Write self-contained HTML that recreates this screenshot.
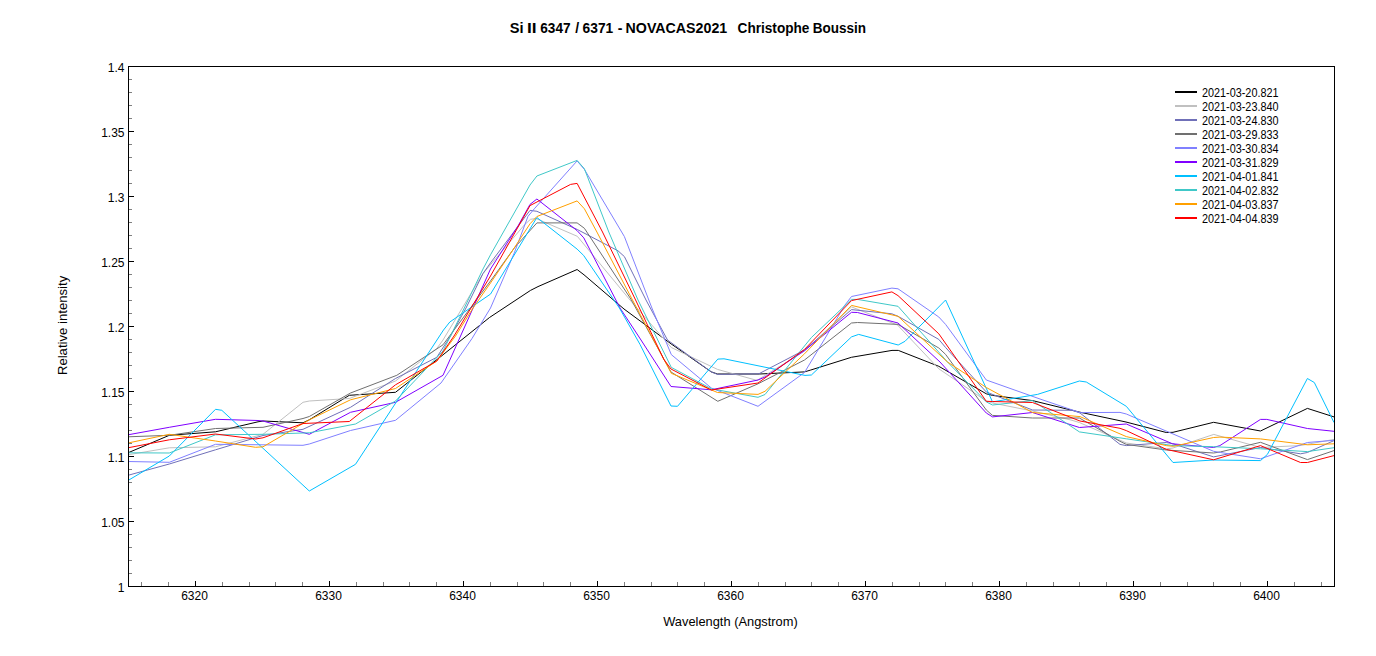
<!DOCTYPE html>
<html lang="en">
<head>
<meta charset="utf-8">
<title>Si II 6347 / 6371 - NOVACAS2021 Christophe Boussin</title>
<style>
html,body{margin:0;padding:0;background:#fff;}
body{width:1376px;height:656px;overflow:hidden;}
svg{display:block;}
text{font-family:"Liberation Sans",sans-serif;fill:#000;}
.tk{font-size:12px;}
.lg{font-size:12px;}
.ax{font-size:13.33px;}
.ti{font-size:14px;font-weight:bold;}
</style>
</head>
<body>
<svg width="1376" height="656" viewBox="0 0 1376 656">
<rect x="0" y="0" width="1376" height="656" fill="#ffffff"/>
<text class="ti" y="32.9"><tspan x="509.70" textLength="13.80" lengthAdjust="spacingAndGlyphs">Si</tspan> <tspan x="526.90" textLength="9.60" lengthAdjust="spacingAndGlyphs">II</tspan> <tspan x="540.30" textLength="30.30" lengthAdjust="spacingAndGlyphs">6347</tspan> <tspan x="575.30" textLength="3.90" lengthAdjust="spacingAndGlyphs">/</tspan> <tspan x="582.60" textLength="30.60" lengthAdjust="spacingAndGlyphs">6371</tspan> <tspan x="617.80" textLength="4.70" lengthAdjust="spacingAndGlyphs">-</tspan> <tspan x="625.60" textLength="101.60" lengthAdjust="spacingAndGlyphs">NOVACAS2021</tspan> <tspan x="737.60" textLength="71.80" lengthAdjust="spacingAndGlyphs">Christophe</tspan> <tspan x="812.70" textLength="53.20" lengthAdjust="spacingAndGlyphs">Boussin</tspan></text>
<g fill="none" stroke-width="1" stroke-linejoin="round" stroke-linecap="butt">
<polyline stroke="#000000" points="128.0,452.8 169.3,435.3 215.5,431.8 258.0,421.8 263.0,421.0 303.0,422.8 309.3,419.8 349.3,395.3 395.5,392.3 443.0,354.8 489.5,317.5 530.5,290.4 538.0,286.6 577.1,269.5 584.0,274.8 624.0,309.0 671.0,343.8 711.3,371.9 717.5,374.0 759.5,374.0 804.5,371.9 810.8,370.0 851.4,357.3 892.0,350.4 898.3,350.4 938.8,366.3 986.3,393.8 992.5,395.4 1032.5,400.6 1079.0,412.0 1126.0,422.0 1166.3,432.5 1173.0,432.3 1213.6,422.3 1260.5,431.0 1307.4,408.4 1334.0,416.9"/>
<polyline stroke="#c0c0c0" points="128.0,454.8 169.3,447.8 215.5,446.8 263.0,434.3 303.0,402.3 309.3,401.0 349.3,398.5 395.5,381.0 436.8,348.5 443.0,340.0 483.0,273.5 524.3,225.0 530.5,219.3 536.0,218.5 577.3,236.3 630.0,300.0 671.3,347.5 717.5,369.4 757.0,380.4 804.5,351.0 851.5,306.9 897.5,325.0 938.8,368.8 986.3,401.0 992.5,403.0 1032.5,411.0 1071.0,420.0 1079.4,422.5 1126.3,443.0 1166.3,448.8 1173.0,448.0 1213.8,434.4 1260.5,447.5 1300.0,445.6 1334.0,439.4"/>
<polyline stroke="#7070b8" points="128.0,475.3 169.3,464.0 215.5,449.8 263.0,435.5 303.0,429.3 350.5,407.3 395.5,378.5 436.8,357.3 450.5,336.0 466.0,308.0 483.0,273.5 490.5,262.9 530.0,210.4 536.9,211.3 577.3,229.5 618.0,250.8 624.4,256.6 646.0,300.0 667.5,340.0 711.3,371.9 717.5,374.4 758.8,373.8 804.5,350.0 851.5,309.6 891.9,313.8 898.0,316.3 938.8,339.4 945.6,347.5 986.3,392.0 1032.5,410.0 1072.5,410.3 1080.0,413.0 1120.0,444.4 1126.3,445.6 1166.3,442.5 1173.0,443.8 1213.6,456.9 1260.5,447.5 1300.5,453.8 1307.4,452.5 1334.0,440.6"/>
<polyline stroke="#707070" points="128.0,436.8 169.3,435.3 215.5,428.5 263.0,427.3 303.0,418.5 309.3,416.5 350.5,393.0 396.8,375.3 443.0,344.8 490.5,281.0 514.3,248.0 536.9,222.9 577.1,222.9 584.4,228.3 630.8,299.0 671.0,372.0 717.8,401.3 758.0,383.8 804.5,360.0 851.5,323.0 857.5,322.5 898.0,324.4 938.8,348.0 945.6,354.4 986.3,410.0 992.5,415.4 1032.5,418.0 1079.4,418.0 1120.0,441.3 1126.3,444.4 1166.3,450.0 1213.6,453.0 1220.5,451.9 1260.5,442.3 1307.4,459.6 1334.0,450.6"/>
<polyline stroke="#8080ff" points="128.0,461.5 169.3,462.3 215.5,444.3 263.0,444.8 303.0,445.3 309.3,444.0 350.5,430.5 395.5,420.3 441.0,383.0 472.0,338.5 490.5,308.0 514.3,252.9 528.0,216.3 534.3,208.8 577.1,160.9 584.4,169.4 618.1,226.0 624.4,236.6 651.9,308.0 671.3,354.6 711.3,388.0 758.0,406.3 804.5,372.5 845.0,305.0 851.5,296.5 891.9,288.1 898.0,288.8 938.8,317.0 945.6,324.4 986.3,380.0 1040.0,399.0 1080.0,412.6 1120.0,412.4 1126.3,414.0 1213.6,451.3 1220.5,452.5 1260.5,458.8 1307.4,442.5 1334.0,440.3"/>
<polyline stroke="#8000ff" points="128.0,434.8 169.3,427.3 215.5,419.3 258.0,420.5 263.0,421.0 309.3,434.3 350.5,412.3 395.5,402.3 443.0,375.3 490.5,269.0 518.0,226.0 530.0,204.4 536.9,199.0 577.1,230.6 583.8,237.9 620.0,308.0 641.0,340.0 671.0,386.5 711.3,389.8 758.0,380.0 765.0,377.0 804.5,350.6 851.5,312.3 857.5,312.5 898.0,323.0 940.0,362.0 986.3,413.0 992.5,416.9 1032.5,412.5 1079.4,427.5 1126.3,424.0 1172.5,443.8 1213.6,447.5 1219.9,445.6 1260.5,419.4 1266.8,419.4 1307.4,428.5 1334.0,431.3"/>
<polyline stroke="#00c0ff" points="128.0,480.5 169.3,456.0 215.5,409.3 221.8,410.3 309.3,491.0 355.5,464.3 443.5,330.0 449.8,322.0 490.5,294.1 536.9,217.5 577.1,249.1 583.6,255.4 619.4,308.0 640.0,344.4 671.0,406.0 677.5,406.3 717.8,359.1 724.0,358.8 805.0,375.4 811.4,375.0 851.5,336.9 858.7,334.4 898.2,345.0 905.0,341.3 945.6,300.0 992.5,401.9 1037.5,394.4 1079.4,381.0 1086.3,382.0 1126.3,406.3 1173.0,462.5 1213.6,460.0 1260.5,460.6 1267.4,454.4 1307.4,378.5 1314.3,382.5 1334.0,422.5"/>
<polyline stroke="#40c8c8" points="128.0,452.8 169.3,453.0 215.5,434.8 263.0,434.3 309.3,432.8 355.5,424.0 395.5,401.0 443.0,351.0 450.5,336.0 464.3,308.0 483.0,269.0 490.5,254.8 506.8,226.0 530.0,185.0 536.9,176.0 577.1,160.4 584.4,168.8 608.8,232.0 638.0,300.0 671.3,367.4 711.3,388.8 758.0,397.3 765.0,394.5 811.4,337.5 851.5,299.4 857.5,299.4 898.0,306.3 947.5,362.0 986.3,401.9 992.5,405.0 1032.5,400.6 1079.4,431.9 1126.3,438.8 1173.0,445.6 1213.6,446.7 1260.5,448.8 1307.4,451.6 1334.0,447.7"/>
<polyline stroke="#ffa000" points="128.0,443.0 169.3,434.3 215.5,441.0 255.5,447.3 263.0,446.8 309.3,419.8 350.5,399.8 395.5,388.5 436.8,361.0 455.5,336.0 473.0,308.0 490.5,283.0 513.0,249.8 530.0,223.8 536.9,216.5 577.1,200.9 584.4,208.8 596.9,232.0 632.5,300.0 671.3,373.3 717.5,392.5 758.0,394.4 765.0,391.3 804.5,353.8 851.5,305.4 898.0,316.3 947.5,362.0 986.3,387.5 1032.5,412.5 1080.0,416.6 1126.3,436.6 1166.3,445.6 1173.5,446.3 1213.6,437.5 1219.9,437.1 1260.5,438.9 1307.4,444.8 1334.0,443.8"/>
<polyline stroke="#ff0000" points="128.0,447.8 169.3,439.8 215.5,434.0 255.5,439.0 263.0,437.8 303.0,423.5 349.3,421.5 395.5,384.8 436.8,361.0 454.0,336.0 471.0,308.0 490.5,276.0 518.6,226.0 530.0,205.6 570.6,184.4 577.1,183.4 602.5,232.0 635.6,300.0 663.8,359.4 671.0,369.0 711.3,390.0 758.0,383.0 804.5,349.4 851.5,300.6 891.9,291.9 898.0,295.6 938.8,333.8 986.3,401.3 992.5,401.5 1032.5,402.5 1080.0,421.0 1120.0,428.3 1126.3,430.6 1166.3,449.4 1213.6,459.8 1260.5,445.6 1300.5,462.5 1307.4,462.5 1334.0,455.6"/>
</g>
<g stroke="#808080" stroke-width="1" shape-rendering="crispEdges">
<line x1="129" y1="79.5" x2="132" y2="79.5"/>
<line x1="129" y1="92.5" x2="132" y2="92.5"/>
<line x1="129" y1="105.5" x2="132" y2="105.5"/>
<line x1="129" y1="118.5" x2="132" y2="118.5"/>
<line x1="129" y1="144.5" x2="132" y2="144.5"/>
<line x1="129" y1="157.5" x2="132" y2="157.5"/>
<line x1="129" y1="170.5" x2="132" y2="170.5"/>
<line x1="129" y1="183.5" x2="132" y2="183.5"/>
<line x1="129" y1="209.5" x2="132" y2="209.5"/>
<line x1="129" y1="222.5" x2="132" y2="222.5"/>
<line x1="129" y1="235.5" x2="132" y2="235.5"/>
<line x1="129" y1="248.5" x2="132" y2="248.5"/>
<line x1="129" y1="274.5" x2="132" y2="274.5"/>
<line x1="129" y1="287.5" x2="132" y2="287.5"/>
<line x1="129" y1="300.5" x2="132" y2="300.5"/>
<line x1="129" y1="313.5" x2="132" y2="313.5"/>
<line x1="129" y1="339.5" x2="132" y2="339.5"/>
<line x1="129" y1="352.5" x2="132" y2="352.5"/>
<line x1="129" y1="365.5" x2="132" y2="365.5"/>
<line x1="129" y1="378.5" x2="132" y2="378.5"/>
<line x1="129" y1="404.5" x2="132" y2="404.5"/>
<line x1="129" y1="417.5" x2="132" y2="417.5"/>
<line x1="129" y1="430.5" x2="132" y2="430.5"/>
<line x1="129" y1="443.5" x2="132" y2="443.5"/>
<line x1="129" y1="469.5" x2="132" y2="469.5"/>
<line x1="129" y1="482.5" x2="132" y2="482.5"/>
<line x1="129" y1="495.5" x2="132" y2="495.5"/>
<line x1="129" y1="508.5" x2="132" y2="508.5"/>
<line x1="129" y1="534.5" x2="132" y2="534.5"/>
<line x1="129" y1="547.5" x2="132" y2="547.5"/>
<line x1="129" y1="560.5" x2="132" y2="560.5"/>
<line x1="129" y1="573.5" x2="132" y2="573.5"/>
<line x1="141.5" y1="586" x2="141.5" y2="582"/>
<line x1="168.5" y1="586" x2="168.5" y2="582"/>
<line x1="222.5" y1="586" x2="222.5" y2="582"/>
<line x1="249.5" y1="586" x2="249.5" y2="582"/>
<line x1="275.5" y1="586" x2="275.5" y2="582"/>
<line x1="302.5" y1="586" x2="302.5" y2="582"/>
<line x1="356.5" y1="586" x2="356.5" y2="582"/>
<line x1="383.5" y1="586" x2="383.5" y2="582"/>
<line x1="409.5" y1="586" x2="409.5" y2="582"/>
<line x1="436.5" y1="586" x2="436.5" y2="582"/>
<line x1="490.5" y1="586" x2="490.5" y2="582"/>
<line x1="517.5" y1="586" x2="517.5" y2="582"/>
<line x1="543.5" y1="586" x2="543.5" y2="582"/>
<line x1="570.5" y1="586" x2="570.5" y2="582"/>
<line x1="624.5" y1="586" x2="624.5" y2="582"/>
<line x1="651.5" y1="586" x2="651.5" y2="582"/>
<line x1="677.5" y1="586" x2="677.5" y2="582"/>
<line x1="704.5" y1="586" x2="704.5" y2="582"/>
<line x1="758.5" y1="586" x2="758.5" y2="582"/>
<line x1="785.5" y1="586" x2="785.5" y2="582"/>
<line x1="811.5" y1="586" x2="811.5" y2="582"/>
<line x1="838.5" y1="586" x2="838.5" y2="582"/>
<line x1="892.5" y1="586" x2="892.5" y2="582"/>
<line x1="919.5" y1="586" x2="919.5" y2="582"/>
<line x1="945.5" y1="586" x2="945.5" y2="582"/>
<line x1="972.5" y1="586" x2="972.5" y2="582"/>
<line x1="1026.5" y1="586" x2="1026.5" y2="582"/>
<line x1="1053.5" y1="586" x2="1053.5" y2="582"/>
<line x1="1079.5" y1="586" x2="1079.5" y2="582"/>
<line x1="1106.5" y1="586" x2="1106.5" y2="582"/>
<line x1="1160.5" y1="586" x2="1160.5" y2="582"/>
<line x1="1187.5" y1="586" x2="1187.5" y2="582"/>
<line x1="1213.5" y1="586" x2="1213.5" y2="582"/>
<line x1="1240.5" y1="586" x2="1240.5" y2="582"/>
<line x1="1294.5" y1="586" x2="1294.5" y2="582"/>
<line x1="1321.5" y1="586" x2="1321.5" y2="582"/>
</g>
<g stroke="#000" stroke-width="1" shape-rendering="crispEdges">
<line x1="129" y1="66.5" x2="134" y2="66.5"/>
<line x1="129" y1="131.5" x2="134" y2="131.5"/>
<line x1="129" y1="196.5" x2="134" y2="196.5"/>
<line x1="129" y1="261.5" x2="134" y2="261.5"/>
<line x1="129" y1="326.5" x2="134" y2="326.5"/>
<line x1="129" y1="391.5" x2="134" y2="391.5"/>
<line x1="129" y1="456.5" x2="134" y2="456.5"/>
<line x1="129" y1="521.5" x2="134" y2="521.5"/>
<line x1="129" y1="586.5" x2="134" y2="586.5"/>
<line x1="195.5" y1="586" x2="195.5" y2="581"/>
<line x1="329.5" y1="586" x2="329.5" y2="581"/>
<line x1="463.5" y1="586" x2="463.5" y2="581"/>
<line x1="597.5" y1="586" x2="597.5" y2="581"/>
<line x1="731.5" y1="586" x2="731.5" y2="581"/>
<line x1="865.5" y1="586" x2="865.5" y2="581"/>
<line x1="999.5" y1="586" x2="999.5" y2="581"/>
<line x1="1133.5" y1="586" x2="1133.5" y2="581"/>
<line x1="1267.5" y1="586" x2="1267.5" y2="581"/>
</g>
<rect x="128.5" y="66.5" width="1206" height="520" fill="none" stroke="#000" stroke-width="1" shape-rendering="crispEdges"/>
<text class="tk" x="124.5" y="71.8" text-anchor="end">1.4</text>
<text class="tk" x="124.5" y="136.8" text-anchor="end">1.35</text>
<text class="tk" x="124.5" y="201.8" text-anchor="end">1.3</text>
<text class="tk" x="124.5" y="266.8" text-anchor="end">1.25</text>
<text class="tk" x="124.5" y="331.8" text-anchor="end">1.2</text>
<text class="tk" x="124.5" y="396.8" text-anchor="end">1.15</text>
<text class="tk" x="124.5" y="461.8" text-anchor="end">1.1</text>
<text class="tk" x="124.5" y="526.8" text-anchor="end">1.05</text>
<text class="tk" x="124.5" y="591.8" text-anchor="end">1</text>
<text class="tk" x="194.5" y="600" text-anchor="middle">6320</text>
<text class="tk" x="328.5" y="600" text-anchor="middle">6330</text>
<text class="tk" x="462.5" y="600" text-anchor="middle">6340</text>
<text class="tk" x="596.5" y="600" text-anchor="middle">6350</text>
<text class="tk" x="730.5" y="600" text-anchor="middle">6360</text>
<text class="tk" x="864.5" y="600" text-anchor="middle">6370</text>
<text class="tk" x="998.5" y="600" text-anchor="middle">6380</text>
<text class="tk" x="1132.5" y="600" text-anchor="middle">6390</text>
<text class="tk" x="1266.5" y="600" text-anchor="middle">6400</text>
<text class="ax" x="663.2" y="625.7" textLength="134.5" lengthAdjust="spacingAndGlyphs">Wavelength (Angstrom)</text>
<text class="ax" transform="translate(66.7,375.1) rotate(-90)" textLength="99.3" lengthAdjust="spacingAndGlyphs">Relative intensity</text>
<line x1="1175" y1="92" x2="1197" y2="92" stroke="#000000" stroke-width="2" shape-rendering="crispEdges"/>
<text class="lg" x="1202" y="96.6" textLength="76.5" lengthAdjust="spacingAndGlyphs">2021-03-20.821</text>
<line x1="1175" y1="106" x2="1197" y2="106" stroke="#c0c0c0" stroke-width="2" shape-rendering="crispEdges"/>
<text class="lg" x="1202" y="110.6" textLength="76.5" lengthAdjust="spacingAndGlyphs">2021-03-23.840</text>
<line x1="1175" y1="120" x2="1197" y2="120" stroke="#7070b8" stroke-width="2" shape-rendering="crispEdges"/>
<text class="lg" x="1202" y="124.6" textLength="76.5" lengthAdjust="spacingAndGlyphs">2021-03-24.830</text>
<line x1="1175" y1="134" x2="1197" y2="134" stroke="#707070" stroke-width="2" shape-rendering="crispEdges"/>
<text class="lg" x="1202" y="138.6" textLength="76.5" lengthAdjust="spacingAndGlyphs">2021-03-29.833</text>
<line x1="1175" y1="148" x2="1197" y2="148" stroke="#8080ff" stroke-width="2" shape-rendering="crispEdges"/>
<text class="lg" x="1202" y="152.6" textLength="76.5" lengthAdjust="spacingAndGlyphs">2021-03-30.834</text>
<line x1="1175" y1="162" x2="1197" y2="162" stroke="#8000ff" stroke-width="2" shape-rendering="crispEdges"/>
<text class="lg" x="1202" y="166.6" textLength="76.5" lengthAdjust="spacingAndGlyphs">2021-03-31.829</text>
<line x1="1175" y1="176" x2="1197" y2="176" stroke="#00c0ff" stroke-width="2" shape-rendering="crispEdges"/>
<text class="lg" x="1202" y="180.6" textLength="76.5" lengthAdjust="spacingAndGlyphs">2021-04-01.841</text>
<line x1="1175" y1="190" x2="1197" y2="190" stroke="#40c8c8" stroke-width="2" shape-rendering="crispEdges"/>
<text class="lg" x="1202" y="194.6" textLength="76.5" lengthAdjust="spacingAndGlyphs">2021-04-02.832</text>
<line x1="1175" y1="204" x2="1197" y2="204" stroke="#ffa000" stroke-width="2" shape-rendering="crispEdges"/>
<text class="lg" x="1202" y="208.6" textLength="76.5" lengthAdjust="spacingAndGlyphs">2021-04-03.837</text>
<line x1="1175" y1="218" x2="1197" y2="218" stroke="#ff0000" stroke-width="2" shape-rendering="crispEdges"/>
<text class="lg" x="1202" y="222.6" textLength="76.5" lengthAdjust="spacingAndGlyphs">2021-04-04.839</text>
</svg>
</body>
</html>
